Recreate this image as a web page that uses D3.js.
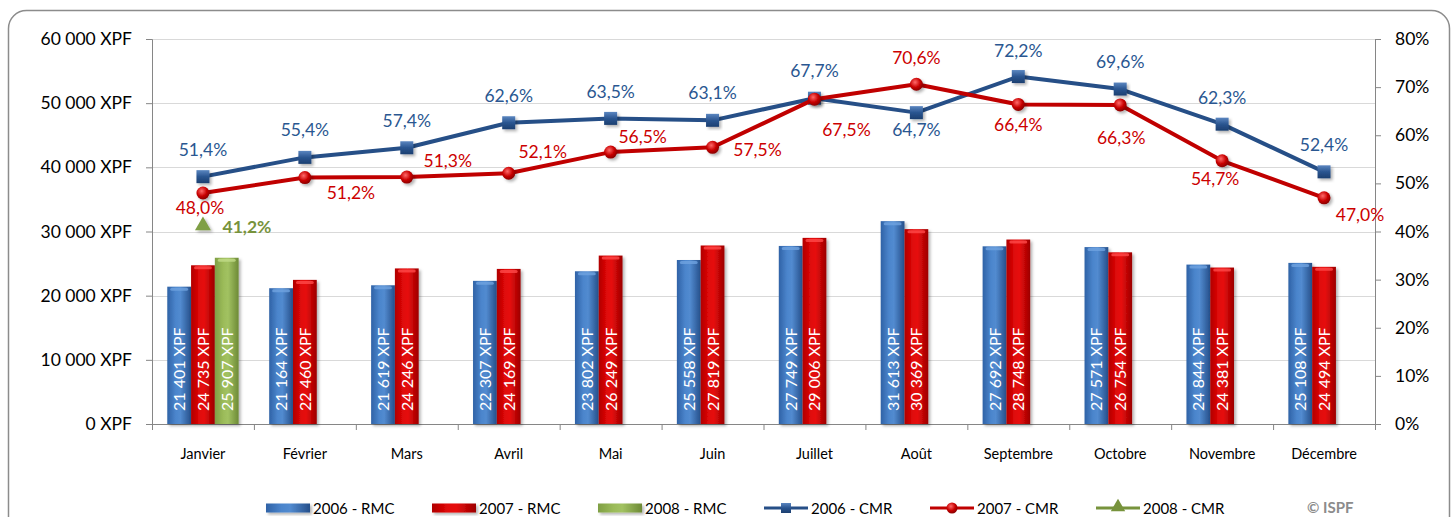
<!DOCTYPE html>
<html>
<head>
<meta charset="utf-8">
<script src="https://cdn.jsdelivr.net/npm/d3@7"></script>
<style>
  body { margin: 0; background: #fff; }
  text { font-family: Lato, "Open Sans", sans-serif; }
</style>
</head>
<body>
<svg id="chart" width="1454" height="517"></svg>
<script>
// data
let months = ["Janvier","Février","Mars","Avril","Mai","Juin","Juillet","Août","Septembre","Octobre","Novembre","Décembre"];
let rmc2006 = [21401,21164,21619,22307,23802,25558,27749,31613,27692,27571,24844,25108];
let rmc2007 = [24735,22460,24246,24169,26249,27819,29006,30369,28748,26754,24381,24494];
let rmc2008 = [25907];
let cmr2006 = [51.4,55.4,57.4,62.6,63.5,63.1,67.7,64.7,72.2,69.6,62.3,52.4];
let cmr2007 = [48.0,51.2,51.3,52.1,56.5,57.5,67.5,70.6,66.4,66.3,54.7,47.0];
let cmr2008 = [41.2];
let leftTicks = [0,10000,20000,30000,40000,50000,60000];
let rightTicks = [0,10,20,30,40,50,60,70,80];
let legendNames = ["2006 - RMC","2007 - RMC","2008 - RMC","2006 - CMR","2007 - CMR","2008 - CMR"];

// label placement (offset of label centre from the point)
let off2006 = [[0,-27],[0,-27],[0,-27],[0,-27],[0,-26],[0,-27],[0,-27],[0,17],[0,-26],[0,-27],[0,-26],[0,-27]];
let off2007 = [[-3,15],[46,15],[41,-16],[34,-21],[32,-15],[45,3],[32,31],[0,-26],[0,21],[1,33],[-7,18],[36,17]];
let off2008 = [[44,1]];

let svg = d3.select("#chart");
let L = 152, R = 1375, T = 39, B = 424;

let x0 = d3.scaleBand().domain(months).range([L,R]).paddingInner(0.3).paddingOuter(0.15);
let x1 = d3.scaleBand().domain([0,1,2]).range([0,x0.bandwidth()]);
let yL = d3.scaleLinear().domain([0,60000]).range([B,T]);
let yR = d3.scaleLinear().domain([0,80]).range([B,T]);
let xc = m => x0(m) + x0.bandwidth()/2;

let blue = "#264f87", red = "#c00000", green = "#77933c";
let fmtNum = d => d3.format(",")(d).replace(/,/g," ") + " XPF";
let fmtPct = d => d.toFixed(1).replace(".",",") + "%";

// defs: gradients + shadow
let defs = svg.append("defs");
function hgrad(id, stops) {
  let g = defs.append("linearGradient").attr("id",id).attr("x1","0").attr("x2","1").attr("y1","0").attr("y2","0");
  stops.forEach(s => g.append("stop").attr("offset",s[0]).attr("stop-color",s[1]));
}
hgrad("gBlue",[[0,"#2f62a6"],[0.35,"#4b85cc"],[0.55,"#528bd0"],[1,"#254f8a"]]);
hgrad("gRed",[[0,"#b00000"],[0.35,"#e00808"],[0.55,"#e60c0c"],[1,"#9c0000"]]);
hgrad("gGreen",[[0,"#7f9f44"],[0.35,"#9bbb59"],[0.55,"#a2c262"],[1,"#6d8a36"]]);
let rg = defs.append("radialGradient").attr("id","gDot").attr("cx","0.4").attr("cy","0.35").attr("r","0.65");
rg.append("stop").attr("offset",0).attr("stop-color","#ff6a6a");
rg.append("stop").attr("offset",0.6).attr("stop-color","#c80000");
rg.append("stop").attr("offset",1).attr("stop-color","#8a0000");
let sg = defs.append("linearGradient").attr("id","gSq").attr("x1","0").attr("x2","0").attr("y1","0").attr("y2","1");
sg.append("stop").attr("offset",0).attr("stop-color","#5b86c0");
sg.append("stop").attr("offset",0.5).attr("stop-color","#2a5590");
sg.append("stop").attr("offset",1).attr("stop-color","#1c3f70");
defs.append("filter").attr("id","shadow").attr("x","-30%").attr("y","-30%").attr("width","160%").attr("height","160%")
  .append("feDropShadow").attr("dx",2).attr("dy",2).attr("stdDeviation",1.5).attr("flood-color","#000").attr("flood-opacity",0.3);

// frame
svg.append("rect").attr("x",8.5).attr("y",10.5).attr("width",1441).attr("height",530)
  .attr("rx",18).attr("fill","none").attr("stroke","#8c8c8c").attr("stroke-width",1.5);

// gridlines
svg.append("g").selectAll("line").data(leftTicks.slice(1)).join("line")
  .attr("x1",L).attr("x2",R).attr("y1",d => Math.round(yL(d))+0.5).attr("y2",d => Math.round(yL(d))+0.5)
  .attr("stroke","#d9d9d9").attr("stroke-width",1);

// axes
let axL = svg.append("g").attr("transform",`translate(${L},0)`)
  .call(d3.axisLeft(yL).tickValues(leftTicks).tickSize(6).tickPadding(14).tickFormat(fmtNum));
let axR = svg.append("g").attr("transform",`translate(${R},0)`)
  .call(d3.axisRight(yR).tickValues(rightTicks).tickSize(6).tickPadding(14).tickFormat(d => d + "%"));
[axL, axR].forEach(a => {
  a.selectAll("path,line").attr("stroke","#868686");
  a.selectAll("text").attr("font-size",17.5).attr("fill","#000").attr("font-family","Lato");
});
let xb = d3.scaleLinear().domain([0,12]).range([L,R]);
let axB = svg.append("g").attr("transform",`translate(0,${B})`)
  .call(d3.axisBottom(xb).ticks(12).tickSize(6).tickFormat(""));
axB.selectAll("path,line").attr("stroke","#868686");
svg.append("g").selectAll("text").data(months).join("text")
  .attr("x",d => xc(d)).attr("y",459).attr("text-anchor","middle")
  .attr("font-size",14.5).attr("fill","#000").text(d => d);

// bars
let barSeries = [
  {vals: rmc2006, fill: "url(#gBlue)", cap: "#6fa2e0"},
  {vals: rmc2007, fill: "url(#gRed)", cap: "#ff4a4a"},
  {vals: rmc2008, fill: "url(#gGreen)", cap: "#c2dc88"}
];
let bars = svg.append("g");
barSeries.forEach((s, si) => {
  let g = bars.append("g");
  let data = s.vals.map((v,i) => ({m: months[i], v: v}));
  g.selectAll("rect.bar").data(data).join("rect").attr("class","bar")
    .attr("x",d => x0(d.m) + x1(si)).attr("width",x1.bandwidth())
    .attr("y",d => yL(d.v)).attr("height",d => B - yL(d.v))
    .attr("fill",s.fill).attr("filter","url(#shadow)");
  g.selectAll("rect.cap").data(data).join("rect").attr("class","cap")
    .attr("x",d => x0(d.m) + x1(si) + 3).attr("width",x1.bandwidth() - 6)
    .attr("y",d => yL(d.v) + 1).attr("height",3).attr("rx",1.5)
    .attr("fill",s.cap).attr("opacity",0.8);
  g.selectAll("text").data(data).join("text")
    .attr("transform",d => `translate(${x0(d.m) + x1(si) + x1.bandwidth()/2 + 6},${B - 13}) rotate(-90)`)
    .attr("font-size",16).attr("fill","#fff").text(d => fmtNum(d.v));
});

// lines
let lineGen = d3.line().x(d => xc(d.m)).y(d => yR(d.v));
function series(vals, color, marker, offs, labelColor, bold) {
  let data = vals.map((v,i) => ({m: months[i], v: v, o: offs[i]}));
  let g = svg.append("g");
  if (data.length > 1) {
    g.append("path").datum(data).attr("d",lineGen).attr("fill","none")
      .attr("stroke",color).attr("stroke-width",4).attr("stroke-linejoin","round");
  }
  let mk = g.selectAll("g.mk").data(data).join("g").attr("class","mk")
    .attr("transform",d => `translate(${xc(d.m)},${yR(d.v)})`).attr("filter","url(#shadow)");
  if (marker === "square") {
    mk.append("rect").attr("x",-6.5).attr("y",-6.5).attr("width",13).attr("height",13).attr("fill","url(#gSq)");
  } else if (marker === "circle") {
    mk.append("circle").attr("r",6.5).attr("fill","url(#gDot)");
  } else {
    mk.append("path").attr("d",d3.symbol(d3.symbolTriangle,110)()).attr("fill","#7f9f44");
  }
  g.selectAll("text").data(data).join("text")
    .attr("x",d => xc(d.m) + d.o[0]).attr("y",d => yR(d.v) + d.o[1] + 6)
    .attr("text-anchor","middle").attr("font-size",17.5).attr("fill",labelColor)
    .attr("font-weight",bold ? "bold" : "normal").text(d => fmtPct(d.v));
}
series(cmr2006, blue, "square", off2006, "#2a5791", false);
series(cmr2007, red, "circle", off2007, "#cc0000", false);
series(cmr2008, "#77933c", "triangle", off2008, "#77933c", true);

// legend: six entries evenly spaced
let lg = svg.append("g").attr("transform","translate(266,508)");
legendNames.forEach((name, i) => {
  let x = i * 166;
  if (i < 3) {
    lg.append("rect").attr("x",x).attr("y",-4.5).attr("width",44).attr("height",9)
      .attr("fill",barSeries[i].fill).attr("filter","url(#shadow)");
  } else {
    let col = [blue, red, "#77933c"][i-3];
    lg.append("line").attr("x1",x).attr("x2",x+44).attr("y1",0).attr("y2",0)
      .attr("stroke",col).attr("stroke-width",3);
    if (i === 3) lg.append("rect").attr("x",x+17).attr("y",-5).attr("width",10).attr("height",10).attr("fill","url(#gSq)");
    if (i === 4) lg.append("circle").attr("cx",x+22).attr("cy",0).attr("r",5.5).attr("fill","url(#gDot)");
    if (i === 5) lg.append("path").attr("transform",`translate(${x+22},-1)`).attr("d",d3.symbol(d3.symbolTriangle,90)()).attr("fill","#77933c");
  }
  lg.append("text").attr("x",x+47).attr("y",5.5).attr("font-size",15).attr("fill","#000").text(name);
});
svg.append("text").attr("x",1307).attr("y",513).attr("font-size",15).attr("font-weight","bold")
  .attr("fill","#8c8c8c").attr("font-family","Liberation Sans, Arial, sans-serif").text("© ISPF");
</script>
</body>
</html>
